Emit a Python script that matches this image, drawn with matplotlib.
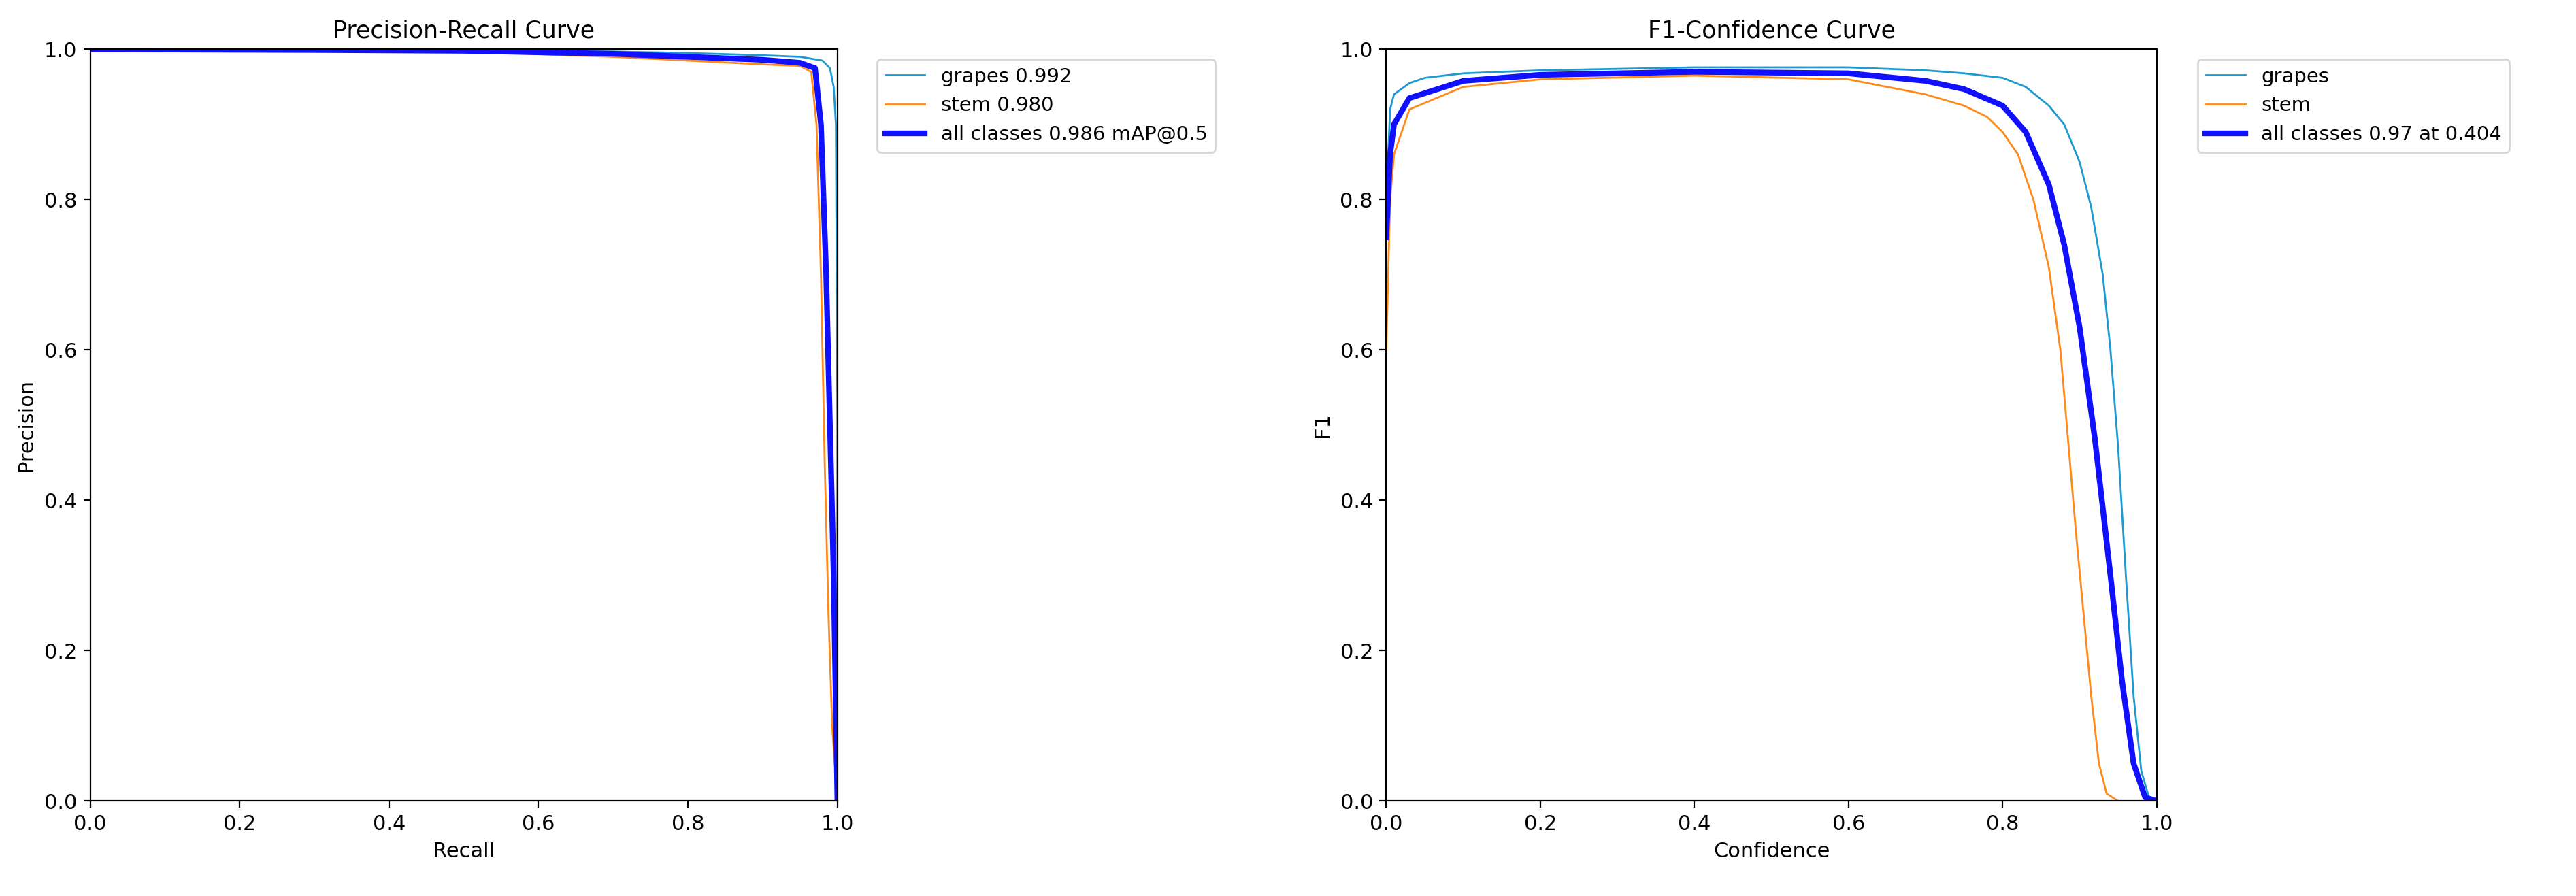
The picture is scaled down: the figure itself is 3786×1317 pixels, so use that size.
import numpy as np
import matplotlib.pyplot as plt

# Precision-Recall data
pr_grapes_recall = [0.0, 0.3, 0.5, 0.7, 0.8, 0.9, 0.95, 0.98, 0.99, 0.995, 0.998, 1.0, 1.0]
pr_grapes_prec = [1.0, 0.999, 0.998, 0.997, 0.995, 0.992, 0.99, 0.985, 0.975, 0.95, 0.9, 0.5, 0.0]
pr_stem_recall = [0.0, 0.3, 0.5, 0.7, 0.8, 0.9, 0.95, 0.965, 0.972, 0.978, 0.983, 0.988, 0.993, 1.0]
pr_stem_prec = [1.0, 0.999, 0.997, 0.99, 0.985, 0.98, 0.978, 0.97, 0.9, 0.7, 0.45, 0.25, 0.1, 0.0]
pr_all_recall = [0.0, 0.3, 0.5, 0.7, 0.8, 0.9, 0.95, 0.97, 0.978, 0.985, 0.99, 0.995, 1.0]
pr_all_prec = [1.0, 0.999, 0.998, 0.994, 0.99, 0.986, 0.982, 0.975, 0.9, 0.7, 0.5, 0.3, 0.0]

# F1-Confidence data
f1_grapes_conf = [0.0, 0.005, 0.01, 0.03, 0.05, 0.1, 0.2, 0.4, 0.6, 0.7, 0.75, 0.8, 0.83, 0.86, 0.88, 0.9, 0.915, 0.93, 0.94, 0.95, 0.96, 0.97, 0.98, 0.99, 1.0]
f1_grapes = [0.8, 0.92, 0.94, 0.955, 0.962, 0.968, 0.972, 0.976, 0.976, 0.972, 0.968, 0.962, 0.95, 0.925, 0.9, 0.85, 0.79, 0.7, 0.6, 0.47, 0.3, 0.14, 0.04, 0.005, 0.0]
f1_stem_conf = [0.0, 0.005, 0.01, 0.03, 0.1, 0.2, 0.4, 0.6, 0.7, 0.75, 0.78, 0.8, 0.82, 0.84, 0.86, 0.875, 0.885, 0.895, 0.905, 0.915, 0.925, 0.935, 0.95, 1.0]
f1_stem = [0.6, 0.8, 0.86, 0.92, 0.95, 0.96, 0.965, 0.96, 0.94, 0.925, 0.91, 0.89, 0.86, 0.8, 0.71, 0.6, 0.48, 0.36, 0.25, 0.14, 0.05, 0.01, 0.0, 0.0]
f1_all_conf = [0.0, 0.005, 0.01, 0.03, 0.1, 0.2, 0.4, 0.6, 0.7, 0.75, 0.8, 0.83, 0.86, 0.88, 0.9, 0.92, 0.94, 0.955, 0.97, 0.985, 1.0]
f1_all = [0.75, 0.86, 0.9, 0.935, 0.958, 0.966, 0.97, 0.968, 0.958, 0.947, 0.925, 0.89, 0.82, 0.74, 0.63, 0.48, 0.3, 0.16, 0.05, 0.005, 0.0]

c_grapes = "#1f9ad0"
c_stem = "#ff8a1c"
c_all = "#1010ff"

fig = plt.figure(figsize=(18.935, 6.585), dpi=200)
ax1 = fig.add_axes([0.035, 0.106, 0.29, 0.839])
ax2 = fig.add_axes([0.538, 0.106, 0.299, 0.839])

ax1.plot(pr_grapes_recall, pr_grapes_prec, color=c_grapes, lw=1, label="grapes 0.992")
ax1.plot(pr_stem_recall, pr_stem_prec, color=c_stem, lw=1, label="stem 0.980")
ax1.plot(pr_all_recall, pr_all_prec, color=c_all, lw=3, label="all classes 0.986 mAP@0.5")
ax1.set_xlabel("Recall", fontsize=11)
ax1.set_ylabel("Precision", fontsize=11)
ax1.set_title("Precision-Recall Curve", fontsize=12.5)

ax2.plot(f1_grapes_conf, f1_grapes, color=c_grapes, lw=1, label="grapes")
ax2.plot(f1_stem_conf, f1_stem, color=c_stem, lw=1, label="stem")
ax2.plot(f1_all_conf, f1_all, color=c_all, lw=3, label="all classes 0.97 at 0.404")
ax2.set_xlabel("Confidence", fontsize=11)
ax2.set_ylabel("F1", fontsize=11)
ax2.set_title("F1-Confidence Curve", fontsize=12.5)

for ax in (ax1, ax2):
    ax.set_xlim(0, 1)
    ax.set_ylim(0, 1)
    ax.tick_params(labelsize=11)
    ax.legend(bbox_to_anchor=(1.04, 1), loc="upper left", fontsize=10.5)

plt.savefig("out.png", dpi=200)
